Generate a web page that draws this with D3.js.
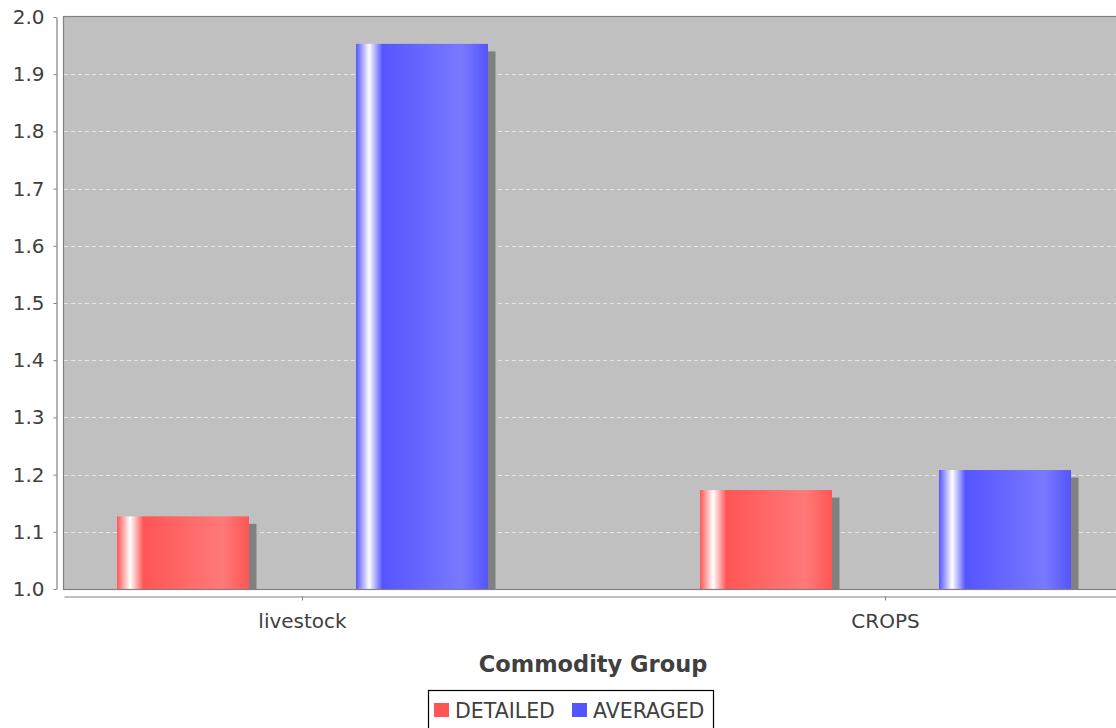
<!DOCTYPE html>
<html>
<head>
<meta charset="utf-8">
<script src="https://cdn.jsdelivr.net/npm/d3@7"></script>
<style>
  html, body { margin: 0; padding: 0; background: #ffffff; }
  svg { display: block; }
  text { font-family: "DejaVu Sans", sans-serif; fill: #404040; }
</style>
</head>
<body>
<svg id="chart" width="1116" height="728"></svg>
<script>
const categories = ["livestock", "CROPS"];
const seriesNames = ["DETAILED", "AVERAGED"];
const detailed = [1.127, 1.173];
const averaged = [1.953, 1.208];
const yTicks = [1.0, 1.1, 1.2, 1.3, 1.4, 1.5, 1.6, 1.7, 1.8, 1.9, 2.0];
const seriesColors = ["#ff5555", "#5555ff"];
const seriesBright = ["#ff7979", "#7979ff"];

const seriesValues = [detailed, averaged];
const rows = [];
categories.forEach((c, ci) => {
  seriesNames.forEach((s, si) => rows.push({ cat: c, series: s, si, value: seriesValues[si][ci] }));
});

const svg = d3.select("#chart");
const plot = { left: 64, right: 1124, top: 17, bottom: 589 };

const y = d3.scaleLinear().domain([1.0, 2.0]).range([plot.bottom, plot.top]);
const x0 = d3.scaleBand().domain(categories).range([plot.left, plot.right])
  .paddingInner(0.3636).paddingOuter(0.0909);
const x1 = d3.scaleBand().domain(seriesNames).range([0, x0.bandwidth()])
  .paddingInner(0.4477).paddingOuter(0);

// gradients
const defs = svg.append("defs");
seriesNames.forEach((s, i) => {
  const g = defs.append("linearGradient").attr("id", "grad" + i)
    .attr("x1", 0).attr("x2", 1).attr("y1", 0).attr("y2", 0);
  [[0, seriesColors[i]], [0.1, "#ffffff"], [0.2, seriesColors[i]], [0.8, seriesBright[i]], [1, seriesColors[i]]]
    .forEach(([o, c]) => g.append("stop").attr("offset", o).attr("stop-color", c));
});
defs.append("clipPath").attr("id", "plotclip").append("rect")
  .attr("x", plot.left).attr("y", plot.top)
  .attr("width", plot.right - plot.left).attr("height", plot.bottom - plot.top);

// plot background
svg.append("rect").attr("x", plot.left).attr("y", plot.top)
  .attr("width", plot.right - plot.left).attr("height", plot.bottom - plot.top)
  .attr("fill", "#c0c0c0");

// gridlines
svg.append("g").selectAll("line").data(yTicks.filter(t => t > 1.0 && t < 2.0)).join("line")
  .attr("x1", plot.left).attr("x2", plot.right)
  .attr("y1", d => Math.round(y(d)) + 0.5).attr("y2", d => Math.round(y(d)) + 0.5)
  .attr("stroke", "#ffffff").attr("stroke-opacity", 0.6)
  .attr("stroke-width", 1).attr("stroke-dasharray", "4,3");

// bars
const barsG = svg.append("g").attr("clip-path", "url(#plotclip)");
const off = 7.5;
barsG.selectAll("rect.shadow").data(rows).join("rect").attr("class", "shadow")
  .attr("x", d => x0(d.cat) + x1(d.series) + off)
  .attr("y", d => y(d.value) + off)
  .attr("width", x1.bandwidth())
  .attr("height", d => Math.max(0, y(1.0) - y(d.value) - off))
  .attr("fill", "#808080");
barsG.selectAll("rect.bar").data(rows).join("rect").attr("class", "bar")
  .attr("x", d => x0(d.cat) + x1(d.series))
  .attr("y", d => y(d.value))
  .attr("width", x1.bandwidth())
  .attr("height", d => y(1.0) - y(d.value))
  .attr("fill", d => "url(#grad" + d.si + ")");

// plot outline
svg.append("rect").attr("x", plot.left - 0.5).attr("y", plot.top - 0.5)
  .attr("width", plot.right - plot.left + 1).attr("height", plot.bottom - plot.top + 1)
  .attr("fill", "none").attr("stroke", "#808080").attr("stroke-width", 1.2);

// y axis
const yAxis = svg.append("g").attr("transform", "translate(56.5,0)")
  .call(d3.axisLeft(y).tickValues(yTicks).tickFormat(d3.format(".1f"))
    .tickSize(3).tickSizeOuter(0).tickPadding(9));
yAxis.select(".domain").attr("stroke", "#808080").attr("stroke-width", 1.2);
yAxis.selectAll(".tick line").attr("stroke", "#808080");
yAxis.selectAll(".tick text").attr("font-size", "20px").attr("fill", "#444444")
  .attr("font-family", "DejaVu Sans");

// x axis
const xAxis = svg.append("g").attr("transform", "translate(0,596.5)")
  .call(d3.axisBottom(x0).tickSize(4).tickSizeOuter(0).tickPadding(13.5));
xAxis.select(".domain").attr("stroke", "#808080").attr("stroke-width", 1.2);
xAxis.selectAll(".tick line").attr("stroke", "#808080");
xAxis.selectAll(".tick text").attr("font-size", "20px").attr("fill", "#444444")
  .attr("font-family", "DejaVu Sans");

// axis title
svg.append("text").attr("x", 593).attr("y", 672)
  .attr("text-anchor", "middle").attr("font-size", "22.5px").attr("font-weight", "bold")
  .text("Commodity Group");

// legend
const legend = svg.append("g");
legend.append("rect").attr("x", 428.5).attr("y", 690.5).attr("width", 285).attr("height", 60)
  .attr("fill", "#ffffff").attr("stroke", "#000000").attr("stroke-width", 1.2);
const legendX = [434, 572];
seriesNames.forEach((s, i) => {
  legend.append("rect").attr("x", legendX[i]).attr("y", 703).attr("width", 15).attr("height", 14)
    .attr("fill", seriesColors[i]);
  legend.append("text").attr("x", legendX[i] + 21).attr("y", 718)
    .attr("font-size", "20.5px").text(s);
});
</script>
</body>
</html>
